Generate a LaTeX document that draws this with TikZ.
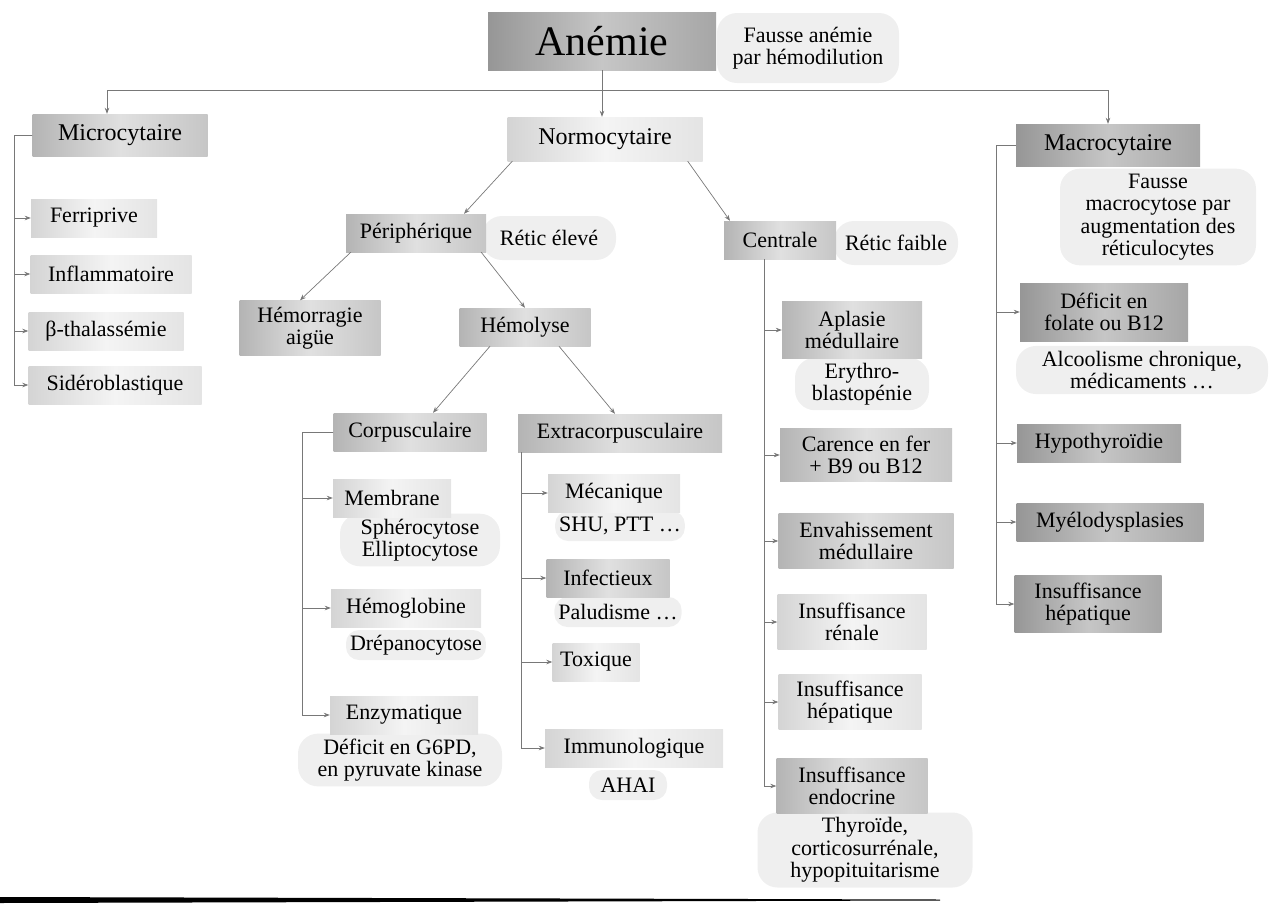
\documentclass[tikz,border=0pt]{standalone}
\usepackage{fontspec}
\setmainfont{Liberation Serif}
\usetikzlibrary{arrows.meta}

\definecolor{anemcolor0000}{RGB}{120,120,120}
\definecolor{anemcolor0001}{RGB}{150,150,150}
\definecolor{anemcolor0002}{RGB}{198,198,198}
\definecolor{anemcolor0003}{RGB}{166,166,166}
\definecolor{anemcolor0004}{RGB}{180,180,180}
\definecolor{anemcolor0005}{RGB}{224,224,224}
\definecolor{anemcolor0006}{RGB}{198,198,198}
\definecolor{anemcolor0007}{RGB}{212,212,212}
\definecolor{anemcolor0008}{RGB}{244,244,244}
\definecolor{anemcolor0009}{RGB}{228,228,228}
\definecolor{anemcolor0010}{RGB}{239,239,239}

\begin{document}
\begin{tikzpicture}[
  yscale = -1,
  every node/.style = {font=\fontsize{22}{22.5}\selectfont,align=center,inner sep=2pt},
  pstyle0/.style = {left color=anemcolor0001,right color=anemcolor0003,middle color=anemcolor0002,minimum height=38pt},
  pstyle1/.style = {left color=anemcolor0004,right color=anemcolor0006,middle color=anemcolor0005,minimum height=38pt},
  pstyle2/.style = {left color=anemcolor0007,right color=anemcolor0009,middle color=anemcolor0008,minimum height=38pt},
  pstyle3/.style = {fill=anemcolor0010,rounded corners=20pt,inner sep=5pt},
  pstyle5/.style = {fill=anemcolor0010,rounded corners=13pt,inner sep=4pt,minimum height=30pt},
  pstyle4/.style = {color=anemcolor0000,line width=0.7pt,-{Stealth[length=6pt,width=4.5pt]}},
]
  \useasboundingbox (0pt,0pt) rectangle (1270pt,911pt);
  \node[pstyle3,minimum width=182pt,minimum height=70pt] (fausse) at (808pt,48pt) {Fausse anémie\\par hémodilution};
  \node[pstyle3,minimum width=196pt] (fmacro) at (1158pt,217pt) {Fausse\\macrocytose par\\augmentation des\\réticulocytes};
  \node[pstyle3,minimum width=134pt,minimum height=44pt] (eleve) at (549pt,238pt) {Rétic élevé};
  \node[pstyle3,minimum width=124pt,minimum height=44pt] (faible) at (896pt,243pt) {Rétic faible};
  \node[pstyle3,minimum width=160pt] (spheroc) at (420pt,540pt) {Sphérocytose\\Elliptocytose};
  \node[pstyle5] (drepano) at (416pt,645pt) {Drépanocytose};
  \node[pstyle3,minimum width=204pt] (g6pd) at (400pt,760pt) {Déficit en G6PD,\\en pyruvate kinase};
  \node[pstyle5] (shu) at (620pt,526pt) {SHU, PTT \dots};
  \node[pstyle5] (palud) at (618pt,612pt) {Paludisme \dots};
  \node[pstyle5,minimum width=78pt] (ahai) at (628pt,785pt) {AHAI};
  \node[pstyle3,minimum width=134pt] (erythro) at (862pt,384pt) {Erythro-\\blastopénie};
  \node[pstyle3,minimum width=215pt] (thyro) at (865pt,850pt) {Thyroïde,\\corticosurrénale,\\hypopituitarisme};
  \node[pstyle3,minimum width=252pt] (alcool) at (1142pt,370pt) {Alcoolisme chronique,\\médicaments \dots};
  \node[pstyle0,minimum width=228pt,minimum height=58pt,font=\fontsize{42}{46}\selectfont] (anemie) at (602pt,41pt) {Anémie};
  \node[pstyle1,minimum width=175pt,minimum height=42pt,font=\fontsize{24}{26}\selectfont] (micro) at (120pt,135pt) {Microcytaire};
  \node[pstyle2,minimum width=195pt,minimum height=44pt,font=\fontsize{24}{26}\selectfont] (normo) at (605pt,139pt) {Normocytaire};
  \node[pstyle0,minimum width=184pt,minimum height=42pt,font=\fontsize{24}{26}\selectfont] (macro) at (1108pt,145pt) {Macrocytaire};
  \node[pstyle2,minimum width=126pt] (ferri) at (94pt,218pt) {Ferriprive};
  \node[pstyle2,minimum width=161pt] (inflam) at (111pt,274pt) {Inflammatoire};
  \node[pstyle2,minimum width=155pt] (thal) at (106pt,331pt) {β-thalassémie};
  \node[pstyle2,minimum width=173pt] (sidero) at (115pt,385pt) {Sidéroblastique};
  \node[pstyle1,minimum width=140pt] (periph) at (416pt,233pt) {Périphérique};
  \node[pstyle1,minimum width=112pt] (centrale) at (780pt,240pt) {Centrale};
  \node[pstyle1,minimum width=141pt,minimum height=55pt] (hemorr) at (310pt,328pt) {Hémorragie\\aigüe};
  \node[pstyle1,minimum width=131pt] (hemolyse) at (525pt,327pt) {Hémolyse};
  \node[pstyle1,minimum width=153pt] (corpus) at (410pt,432pt) {Corpusculaire};
  \node[pstyle1,minimum width=204pt] (extra) at (620pt,433pt) {Extracorpusculaire};
  \node[pstyle2,minimum width=118pt] (membrane) at (392pt,498pt) {Membrane};
  \node[pstyle2,minimum width=150pt] (hemoglob) at (406pt,608pt) {Hémoglobine};
  \node[pstyle2,minimum width=148pt] (enzym) at (404pt,715pt) {Enzymatique};
  \node[pstyle2,minimum width=132pt] (meca) at (614pt,493pt) {Mécanique};
  \node[pstyle1,minimum width=123pt] (infect) at (608pt,578pt) {Infectieux};
  \node[pstyle2,minimum width=87pt] (toxique) at (596pt,662pt) {Toxique};
  \node[pstyle2,minimum width=178pt] (immuno) at (634pt,748pt) {Immunologique};
  \node[pstyle1,minimum width=140pt,minimum height=57pt] (aplasie) at (852pt,330pt) {Aplasie\\médullaire};
  \node[pstyle1,minimum width=172pt,minimum height=53pt] (carence) at (866pt,455pt) {Carence en fer\\+ B9 ou B12};
  \node[pstyle1,minimum width=175pt,minimum height=55pt] (envahis) at (866pt,541pt) {Envahissement\\médullaire};
  \node[pstyle2,minimum width=149pt,minimum height=55pt] (renale) at (852pt,622pt) {Insuffisance\\rénale};
  \node[pstyle2,minimum width=143pt,minimum height=55pt] (hepatc) at (850pt,702pt) {Insuffisance\\hépatique};
  \node[pstyle1,minimum width=151pt,minimum height=55pt] (endoc) at (852pt,786pt) {Insuffisance\\endocrine};
  \node[pstyle0,minimum width=168pt,minimum height=58pt] (deficit) at (1104pt,312pt) {Déficit en\\folate ou B12};
  \node[pstyle0,minimum width=164pt] (hypo) at (1099pt,443pt) {Hypothyroïdie};
  \node[pstyle0,minimum width=187pt] (myelo) at (1110pt,522pt) {Myélodysplasies};
  \node[pstyle0,minimum width=147pt,minimum height=57pt] (hepatm) at (1088pt,604pt) {Insuffisance\\hépatique};
  \coordinate (hub) at (602pt,90pt);
  \coordinate (brmicro) at (14pt,0pt);
  \coordinate (brcorpus) at (302pt,0pt);
  \coordinate (brextra) at (521pt,0pt);
  \coordinate (brcentrale) at (764pt,0pt);
  \coordinate (brmacro) at (996pt,0pt);
  \draw[pstyle4] (anemie.south) -- (anemie.south |- normo.north);
  \draw[pstyle4] (hub) -| ([xshift=-13pt]micro.north);
  \draw[pstyle4] (hub) -| (macro.north);
  \draw[pstyle4] ([xshift=5pt]normo.south west) -- ([xshift=48pt]periph.north);
  \draw[pstyle4] ([xshift=-15pt]normo.south east) -- ([xshift=-50pt]centrale.north);
  \draw[pstyle4] ([xshift=5pt]periph.south west) -- ([xshift=-10pt]hemorr.north);
  \draw[pstyle4] ([xshift=-5pt]periph.south east) -- (hemolyse.north);
  \draw[pstyle4] ([xshift=-35pt]hemolyse.south) -- ([xshift=23pt]corpus.north);
  \draw[pstyle4] ([xshift=34pt]hemolyse.south) -- ([xshift=-5pt]extra.north);
  \foreach \n in {ferri,inflam,thal,sidero}
    \draw[pstyle4] (micro.west) -- (micro.west -| brmicro) |- (\n.west);
  \foreach \n in {membrane,hemoglob,enzym}
    \draw[pstyle4] (corpus.west) -- (corpus.west -| brcorpus) |- (\n.west);
  \foreach \n in {meca,infect,toxique,immuno}
    \draw[pstyle4] (extra.south -| brextra) |- (\n.west);
  \foreach \n in {aplasie,carence,envahis,renale,hepatc,endoc}
    \draw[pstyle4] (centrale.south -| brcentrale) |- (\n.west);
  \foreach \n in {deficit,hypo,myelo,hepatm}
    \draw[pstyle4] (macro.west) -- (macro.west -| brmacro) |- (\n.west);
  \fill[black] (0pt,897pt) -- (940pt,899.5pt) -- (940pt,900.5pt) -- (0pt,903pt) -- cycle;
\end{tikzpicture}
\end{document}
